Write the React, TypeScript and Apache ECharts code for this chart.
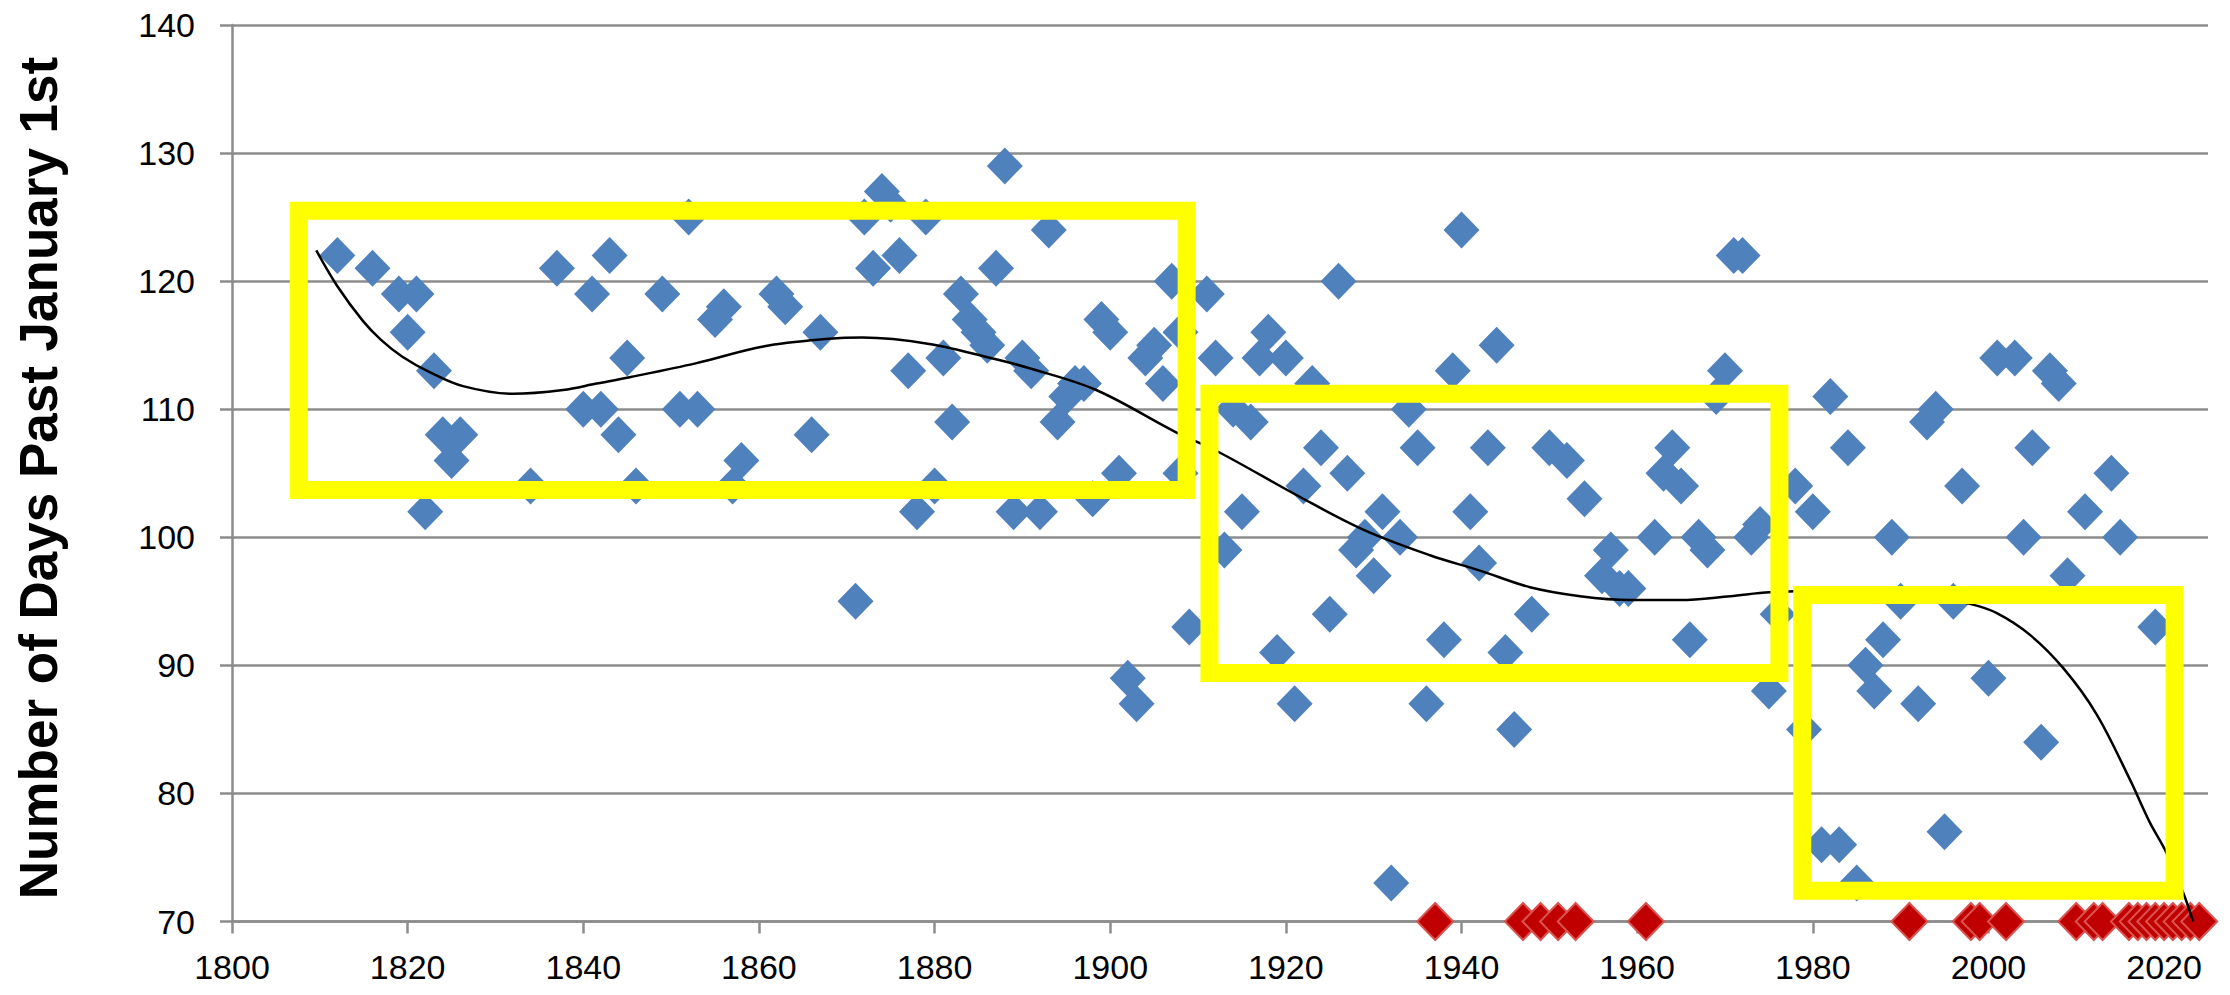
import { useEffect, useRef } from "react";
import * as echarts from "echarts";

// Observed years (blue diamonds) and number of days past January 1st
const blueYears = [
  1812, 1816, 1819, 1820, 1821, 1822, 1823, 1824, 1825, 1826,
  1834, 1837, 1840, 1841, 1842, 1843, 1844, 1845, 1846, 1849,
  1851, 1852, 1853, 1855, 1856, 1857, 1858, 1862, 1863, 1866,
  1867, 1871, 1872, 1873, 1874, 1875, 1876, 1877, 1878, 1879,
  1880, 1881, 1882, 1883, 1884, 1885, 1886, 1887, 1888, 1889,
  1890, 1891, 1892, 1893, 1894, 1895, 1896, 1897, 1898, 1899,
  1900, 1901, 1902, 1903, 1904, 1905, 1906, 1907, 1908, 1908,
  1909, 1911, 1912, 1913, 1914, 1915, 1916, 1917, 1918, 1919,
  1920, 1921, 1922, 1923, 1924, 1925, 1926, 1927, 1928, 1929,
  1930, 1931, 1932, 1933, 1934, 1935, 1936, 1938, 1939, 1940,
  1941, 1942, 1943, 1944, 1945, 1946, 1948, 1950, 1952, 1954,
  1956, 1957, 1958, 1959, 1962, 1963, 1964, 1965, 1966, 1967,
  1968, 1969, 1970, 1971, 1972, 1973, 1974, 1975, 1976, 1978,
  1979, 1980, 1981, 1982, 1983, 1984, 1985, 1986, 1987, 1988,
  1989, 1990, 1992, 1993, 1994, 1995, 1996, 1997, 2000, 2001,
  2003, 2004, 2005, 2006, 2007, 2008, 2009, 2011, 2014, 2015,
  2019,
];
const blueValues = [
  122, 121, 119, 116, 119, 102, 113, 108, 106, 108,
  104, 121, 110, 119, 110, 122, 108, 114, 104, 119,
  110, 125, 110, 117, 118, 104, 106, 119, 118, 108,
  116, 95, 125, 121, 127, 126, 122, 113, 102, 125,
  104, 114, 109, 119, 117, 116, 115, 121, 129, 102,
  114, 113, 102, 124, 109, 111, 112, 112, 103, 117,
  116, 105, 89, 87, 114, 115, 112, 120, 116, 105,
  93, 119, 114, 99, 110, 102, 109, 114, 116, 91,
  114, 87, 104, 112, 107, 94, 120, 105, 99, 100,
  97, 102, 73, 100, 110, 107, 87, 92, 113, 124,
  102, 98, 107, 115, 91, 85, 94, 107, 106, 103,
  97, 99, 96, 96, 100, 105, 107, 104, 92, 100,
  99, 111, 113, 122, 122, 100, 101, 88, 94, 104,
  85, 102, 76, 111, 76, 107, 73, 90, 88, 92,
  100, 95, 87, 109, 110, 77, 95, 104, 89, 114,
  114, 100, 107, 84, 113, 112, 97, 102, 105, 100,
  93,
];

// Years drawn as red diamonds on the 70 line
const redYears = [
  1937, 1947, 1949, 1951, 1953, 1961, 1991, 1998, 1999, 2002, 2010,
  2012, 2013, 2016, 2017, 2018, 2019, 2020, 2021, 2022, 2023, 2024,
];
const redValue = 70;

// Trend line
const trendYears = [
  1809.6, 1812, 1814.9, 1817, 1819.4, 1822.5, 1826.3, 1832, 1837.7, 1841.5,
  1845.3, 1852.9, 1860.5, 1868, 1871.8, 1879.4, 1887, 1890.8, 1898.4, 1907.5,
  1912.5, 1921.2, 1928.8, 1936.4, 1942.1, 1947.8, 1953.5, 1959.2, 1964.9, 1970.6,
  1975.1, 1985, 1992, 1997.9, 2000.9, 2004.7, 2008.5, 2012.3, 2016.1, 2018.4,
  2020.1, 2022.2, 2023.3,
];
const trendValues = [
  122.4, 119.6, 116.9, 115.4, 114.1, 112.9, 111.8, 111.2, 111.5, 112,
  112.5, 113.6, 114.9, 115.5, 115.6, 115.1, 113.9, 113.2, 111.5, 108.2,
  106.6, 103.3, 100.6, 98.6, 97.4, 96.1, 95.4, 95.1, 95.1, 95.4,
  95.7, 95.9, 95.6, 94.8, 94.1, 92.4, 89.8, 86.2, 81.1, 77.7,
  75.6, 72.2, 70,
];

// Highlight boxes (year range, value range)
const boxYearRanges = [
  [1807.6, 1908.7],
  [1911.3, 1976.2],
  [1978.8, 2021.2],
];
const boxValueRanges = [
  [103.7, 125.5],
  [89.4, 111.2],
  [72.4, 95.5],
];

const xTickValues = [1800, 1820, 1840, 1860, 1880, 1900, 1920, 1940, 1960, 1980, 2000, 2020];
const yAxisTitle = "Number of Days Past January 1st";

function boxOutline(i: number) {
  const [x0, x1] = boxYearRanges[i];
  const [y0, y1] = boxValueRanges[i];
  return [
    [x0, y0],
    [x0, y1],
    [x1, y1],
    [x1, y0],
    [x0, y0],
  ];
}

export default function App() {
  const ref = useRef<HTMLDivElement>(null);

  useEffect(() => {
    if (!ref.current) return;
    const chart = echarts.init(ref.current, undefined, { renderer: "svg" });
    const gray = "#8C8C8C";
    const labelFont = {
      fontSize: 34,
      fontFamily: "Liberation Sans, Arial, sans-serif",
      color: "#000",
    };

    const boxSeries = boxYearRanges.map((_, i) => ({
      type: "line",
      name: "box" + i,
      data: boxOutline(i),
      showSymbol: false,
      symbol: "none",
      silent: true,
      clip: false,
      z: 5,
      lineStyle: { color: "#FFFF00", width: 18, join: "miter", cap: "square" },
    }));

    chart.setOption({
      animation: false,
      backgroundColor: "#ffffff",
      grid: { left: 232, right: 22, top: 25, bottom: 73.5, containLabel: false },
      xAxis: {
        type: "value",
        min: 1800,
        max: 2025,
        interval: 20,
        axisLine: { show: true, onZero: false, lineStyle: { color: gray, width: 2.5 } },
        axisTick: {
          show: true,
          length: 12,
          customValues: xTickValues,
          lineStyle: { color: gray, width: 2.5 },
        },
        axisLabel: {
          ...labelFont,
          margin: 28,
          customValues: xTickValues,
          formatter: (v: number) => String(v),
        },
        splitLine: { show: false },
      },
      yAxis: {
        type: "value",
        min: 70,
        max: 140,
        interval: 10,
        axisLine: { show: true, lineStyle: { color: gray, width: 2.5 } },
        axisTick: { show: true, length: 12, lineStyle: { color: gray, width: 2.5 } },
        axisLabel: { ...labelFont, margin: 37, formatter: (v: number) => String(v) },
        splitLine: { show: true, lineStyle: { color: gray, width: 2.5 } },
      },
      graphic: [
        {
          type: "text",
          x: 38.5,
          y: 478,
          rotation: Math.PI / 2,
          style: {
            text: yAxisTitle,
            fontSize: 53,
            fontWeight: "bold",
            fontFamily: "Liberation Sans, Arial, sans-serif",
            fill: "#000",
            align: "center",
            verticalAlign: "middle",
          },
        },
      ],
      series: [
        {
          type: "scatter",
          name: "observed",
          data: blueYears.map((y, i) => [y, blueValues[i]]),
          symbol: "diamond",
          symbolSize: [36, 37],
          clip: false,
          z: 2,
          itemStyle: { color: "#4F81BD", opacity: 1 },
        },
        {
          type: "scatter",
          name: "none",
          data: redYears.map((y) => [y, redValue]),
          symbol: "diamond",
          symbolSize: [36, 37],
          clip: false,
          z: 3,
          itemStyle: { color: "#C00000", borderColor: "#D9534F", borderWidth: 2, opacity: 1 },
        },
        {
          type: "line",
          name: "trend",
          data: trendYears.map((y, i) => [y, trendValues[i]]),
          smooth: 0.35,
          showSymbol: false,
          symbol: "none",
          z: 4,
          lineStyle: { color: "#000", width: 2.5 },
        },
        ...boxSeries,
      ],
    });

    return () => chart.dispose();
  }, []);

  return (
    <div
      ref={ref}
      style={{
        position: "fixed",
        left: 0,
        top: 0,
        width: 2230,
        height: 995,
        background: "#fff",
      }}
    />
  );
}
